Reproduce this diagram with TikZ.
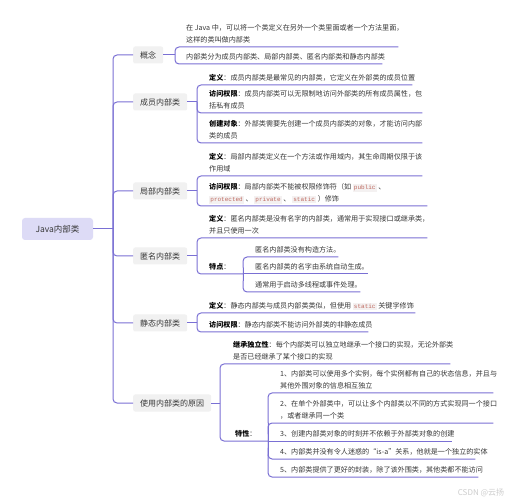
\documentclass[tikz,border=0pt]{standalone}
\usepackage{fontspec}
\setmainfont{Noto Sans CJK SC}
\newfontfamily\monof{Liberation Mono}
\definecolor{lineC}{RGB}{122,112,212}
\definecolor{rootC}{RGB}{221,219,246}
\definecolor{brC}{RGB}{241,241,241}
\definecolor{txtC}{RGB}{55,55,55}
\definecolor{codeFg}{RGB}{190,105,95}
\definecolor{codeBg}{RGB}{244,241,241}
\definecolor{wmC}{RGB}{205,205,205}
\newcommand\cde[1]{{\setlength\fboxsep{1.2pt}\colorbox{codeBg}{\textcolor{codeFg}{\monof\fontsize{6}{7}\selectfont #1}}}}
\newcommand\lbl[1]{{\bfseries\color{black}#1}}
\newcommand\leaftext[3]{\makebox[#1][l]{\hspace*{#2}\begin{tabular}[b]{@{}l@{}}#3\end{tabular}}}
\tikzset{
 conn/.style={draw=lineC, line width=1pt},
 rc/.style={conn, rounded corners=4pt},
 rootbox/.style={fill=rootC, rounded corners=3pt, minimum width=71pt, minimum height=22pt, inner sep=0pt, font=\fontsize{8.5}{10}\selectfont, text=txtC},
 branch/.style={fill=brC, rounded corners=2pt, minimum height=17pt, inner xsep=7pt, inner ysep=0pt, font=\fontsize{8}{10}\selectfont, text=txtC, anchor=west},
 leaf/.style={anchor=south west, inner xsep=0pt, inner ysep=1pt, font=\fontsize{7.1}{11.5}\selectfont, text=txtC},
}
\begin{document}
\begin{tikzpicture}[x=1pt,y=-1pt]
\useasboundingbox[fill=white] (0,0) rectangle (515,500);
% root and branches
\node[rootbox] (root) at (57.5,229) {Java内部类};
\node[branch] (gn) at (133,55) {概念};
\node[branch] (cy) at (133,102) {成员内部类};
\node[branch] (jb) at (133,191) {局部内部类};
\node[branch] (nm) at (133,256) {匿名内部类};
\node[branch] (jt) at (133,323) {静态内部类};
\node[branch] (yy) at (133,403) {使用内部类的原因};
\coordinate (mb) at (113,229);
% leaves: 概念
\node[leaf] (g1) at (175,47) {\leaftext{223pt}{11pt}{在 Java 中，可以将一个类定义在另外一个类里面或者一个方法里面，\\这样的类叫做内部类}};
\node[leaf] (g2) at (175,64) {\leaftext{207pt}{11pt}{内部类分为成员内部类、局部内部类、匿名内部类和静态内部类}};
% 成员内部类
\node[leaf] (c1) at (197,85) {\leaftext{215pt}{12pt}{\lbl{定义}：成员内部类是最常见的内部类，它定义在外部类的成员位置}};
\node[leaf] (c2) at (197,113) {\leaftext{225pt}{12pt}{\lbl{访问权限}：成员内部类可以无限制地访问外部类的所有成员属性，包\\括私有成员}};
\node[leaf] (c3) at (197,143) {\leaftext{225pt}{12pt}{\lbl{创建对象}：外部类需要先创建一个成员内部类的对象，才能访问内部\\类的成员}};
% 局部内部类
\node[leaf] (j1) at (197,176) {\leaftext{225pt}{12pt}{\lbl{定义}：局部内部类定义在一个方法或作用域内，其生命周期仅限于该\\作用域}};
\node[leaf] (j2) at (197,206) {\leaftext{230pt}{12pt}{\lbl{访问权限}：局部内部类不能被权限修饰符（如 \cde{public} 、\\\cde{protected} 、 \cde{private} 、 \cde{static} ）修饰}};
% 匿名内部类
\node[leaf] (n1) at (197,238) {\leaftext{230pt}{12pt}{\lbl{定义}：匿名内部类是没有名字的内部类，通常用于实现接口或继承类，\\并且只使用一次}};
\node[leaf] (n2) at (197,274) {\leaftext{46pt}{12pt}{\lbl{特点}：}};
\node[leaf] (n21) at (243,257) {\leaftext{95pt}{12pt}{匿名内部类没有构造方法。}};
\node[leaf] (n22) at (243,274) {\leaftext{125pt}{12pt}{匿名内部类的名字由系统自动生成。}};
\node[leaf] (n23) at (243,292) {\leaftext{117pt}{12pt}{通常用于启动多线程或事件处理。}};
% 静态内部类
\node[leaf] (s1) at (197,313) {\leaftext{218pt}{12pt}{\lbl{定义}：静态内部类与成员内部类类似，但使用 \cde{static} 关键字修饰}};
\node[leaf] (s2) at (197,332) {\leaftext{171pt}{12pt}{\lbl{访问权限}：静态内部类不能访问外部类的非静态成员}};
% 使用内部类的原因
\node[leaf] (y1) at (220,364) {\leaftext{230pt}{13pt}{\lbl{继承独立性}：每个内部类可以独立地继承一个接口的实现，无论外部类\\是否已经继承了某个接口的实现}};
\node[leaf] (y2) at (220,441) {\leaftext{48pt}{15pt}{\lbl{特性}：}};
\node[leaf] (y21) at (268,393) {\leaftext{225pt}{12pt}{1、内部类可以使用多个实例，每个实例都有自己的状态信息，并且与\\其他外围对象的信息相互独立}};
\node[leaf] (y22) at (268,423) {\leaftext{225pt}{12pt}{2、在单个外部类中，可以让多个内部类以不同的方式实现同一个接口\\，或者继承同一个类}};
\node[leaf] (y23) at (268,441) {\leaftext{184pt}{12pt}{3、创建内部类对象的时刻并不依赖于外部类对象的创建}};
\node[leaf] (y24) at (268,459) {\leaftext{207pt}{12pt}{4、内部类并没有令人迷惑的“is-a”关系，他就是一个独立的实体}};
\node[leaf] (y25) at (268,477) {\leaftext{210pt}{12pt}{5、内部类提供了更好的封装，除了该外围类，其他类都不能访问}};
% watermark
\node[text=wmC, font=\fontsize{8}{10}\selectfont, inner sep=0pt] (wm) at (481,493) {CSDN @云扬};
% connectors: root to branches
\draw[conn] (root.east) -- (mb);
\foreach \b in {gn,cy,jb,nm,jt,yy} \draw[rc] (mb) -- (mb |- \b.west) -- (\b.west);
% branches to leaves
\draw[conn] (gn.east) -- (gn.east -| g1.south west);
\foreach \c in {g1,g2} \draw[rc] (gn.east -| \c.south west) -- (\c.south west) -- (\c.south east);
\draw[conn] (cy.east) -- (cy.east -| c1.south west);
\foreach \c in {c1,c2,c3} \draw[rc] (cy.east -| \c.south west) -- (\c.south west) -- (\c.south east);
\draw[conn] (jb.east) -- (jb.east -| j1.south west);
\foreach \c in {j1,j2} \draw[rc] (jb.east -| \c.south west) -- (\c.south west) -- (\c.south east);
\draw[conn] (nm.east) -- (nm.east -| n1.south west);
\foreach \c in {n1,n2} \draw[rc] (nm.east -| \c.south west) -- (\c.south west) -- (\c.south east);
\draw[conn] (jt.east) -- (jt.east -| s1.south west);
\foreach \c in {s1,s2} \draw[rc] (jt.east -| \c.south west) -- (\c.south west) -- (\c.south east);
\draw[conn] (yy.east) -- (yy.east -| y1.south west);
\foreach \c in {y1,y2} \draw[rc] (yy.east -| \c.south west) -- (\c.south west) -- (\c.south east);
% sub-brackets
\draw[rc] (n2.south east) -- (n21.south west) -- (n21.south east);
\draw[conn] (n22.south west) -- (n22.south east);
\draw[rc] (n2.south east) -- (n23.south west) -- (n23.south east);
\foreach \c in {y21,y22,y24,y25} \draw[rc] (y2.south east) -- (\c.south west) -- (\c.south east);
\draw[conn] (y23.south west) -- (y23.south east);
\end{tikzpicture}
\end{document}
